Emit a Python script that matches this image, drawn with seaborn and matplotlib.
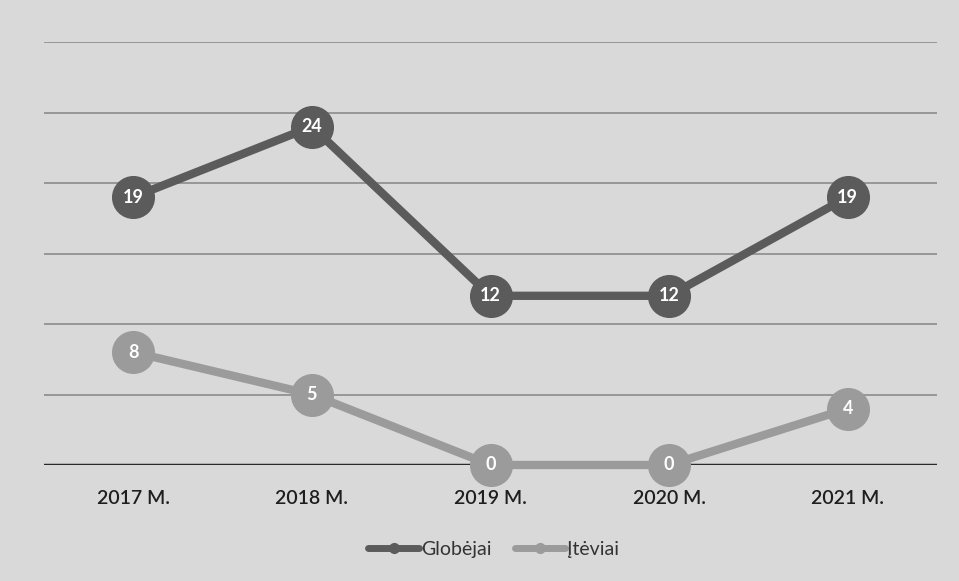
import numpy as np
import pandas as pd
import seaborn as sns
import matplotlib.pyplot as plt
from matplotlib.lines import Line2D

years = ["2017 M.", "2018 M.", "2019 M.", "2020 M.", "2021 M."]
globejai = [19, 24, 12, 12, 19]
teviai = [8, 5, 0, 0, 4]
series_names = ["Globėjai", "Įtėviai"]
colors = {"Globėjai": "#5b5b5b", "Įtėviai": "#9b9b9b"}

sns.set_style("white")
plt.rcParams["font.family"] = ["Lato", "DejaVu Sans"]

df = pd.DataFrame({
    "year": years * 2,
    "value": globejai + teviai,
    "series": [series_names[0]] * len(years) + [series_names[1]] * len(years),
})
df["x"] = df["year"].map({y: i for i, y in enumerate(years)})

fig = plt.figure(figsize=(9.59, 5.81), dpi=100)
fig.patch.set_facecolor("#d9d9d9")
ax = fig.add_axes([44 / 959, 116 / 581, 893 / 959, 423 / 581])
ax.set_facecolor("#d9d9d9")

for yv in range(5, 35, 5):
    ax.axhline(yv, color="#8c8c8c", lw=1.2, zorder=0)
ax.axhline(0, color="#2a2a2a", lw=2.5, zorder=1)

sns.lineplot(data=df, x="x", y="value", hue="series", palette=colors,
             lw=6, marker="o", markersize=31, markeredgewidth=0,
             legend=False, ax=ax, zorder=3, clip_on=False)

for name, vals in zip(series_names, [globejai, teviai]):
    for i, v in enumerate(vals):
        ax.text(i, v, str(v), color="white", ha="center", va="center",
                fontsize=13, fontweight="bold", zorder=5)

ax.set_xlim(-0.5, len(years) - 0.5)
ax.set_ylim(0, 30)
ax.set_xticks(range(len(years)))
ax.set_xticklabels(years, fontsize=14, color="#1e1e1e", fontweight="semibold")
ax.tick_params(axis="x", length=0, pad=18)
ax.set_yticks([])
ax.set_xlabel("")
ax.set_ylabel("")
for s in ax.spines.values():
    s.set_visible(False)

handles = [Line2D([0], [0], color=colors[n], lw=5, marker="o", markersize=7)
           for n in series_names]
fig.legend(handles, series_names, loc="center", bbox_to_anchor=(0.515, 0.055),
           ncol=2, frameon=False, fontsize=14, handlelength=2.6,
           handletextpad=0.1, columnspacing=1.2, labelcolor="#333333")

fig.savefig("out.png", dpi=100, facecolor=fig.get_facecolor())
